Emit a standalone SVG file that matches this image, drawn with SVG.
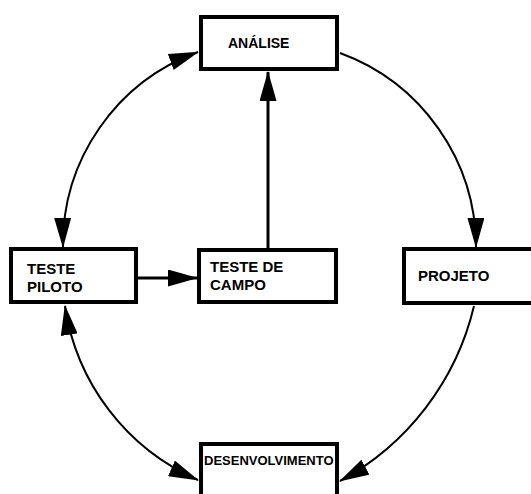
<svg xmlns="http://www.w3.org/2000/svg" width="531" height="494" viewBox="0 0 531 494">
<style>
.box{fill:#fff;stroke:#000;stroke-width:4}
.t{font-family:"Liberation Sans",Arial,sans-serif;font-weight:bold;fill:#000}
.c{fill:none;stroke:#000;stroke-width:2}
.s{fill:none;stroke:#000;stroke-width:3}
</style>
<defs>
<marker id="ah" markerUnits="userSpaceOnUse" markerWidth="30" markerHeight="17" refX="29" refY="8.5" orient="auto-start-reverse" viewBox="0 0 30 17">
<path d="M0,0 L30,8.5 L0,17 z" fill="#000"/>
</marker>
</defs>
<rect width="531" height="494" fill="#fff"/>
<g id="connectors">
<path class="c" d="M198,52 A205,205 0 0 0 63,247" marker-start="url(#ah)" marker-end="url(#ah)"/>
<path class="c" d="M340,53 A207,207 0 0 1 476,247" marker-end="url(#ah)"/>
<path class="c" d="M65,306 A226,226 0 0 0 198,480" marker-start="url(#ah)" marker-end="url(#ah)"/>
<path class="c" d="M474,306 A270,270 0 0 1 340,481" marker-end="url(#ah)"/>
<path class="s" d="M268,248 L268,72" marker-end="url(#ah)"/>
<path class="s" d="M138,278 L197,278" marker-end="url(#ah)"/>
</g>
<g id="analise">
<rect class="box" x="201" y="17" width="136" height="52"/>
<text class="t" x="228" y="48" font-size="14">ANÁLISE</text>
</g>
<g id="teste-piloto">
<rect class="box" x="11" y="249" width="125" height="53"/>
<text class="t" x="27" y="274" font-size="15">TESTE</text>
<text class="t" x="27" y="292" font-size="15">PILOTO</text>
</g>
<g id="teste-campo">
<rect class="box" x="199" y="250" width="137" height="52"/>
<text class="t" x="210" y="272" font-size="15">TESTE DE</text>
<text class="t" x="210" y="290" font-size="15">CAMPO</text>
</g>
<g id="projeto">
<rect class="box" x="404" y="249" width="140" height="54"/>
<text class="t" x="418" y="281" font-size="15">PROJETO</text>
</g>
<g id="desenvolvimento">
<rect class="box" x="201" y="444" width="136" height="70"/>
<text class="t" x="204" y="465" font-size="13">DESENVOLVIMENTO</text>
</g>
</svg>
